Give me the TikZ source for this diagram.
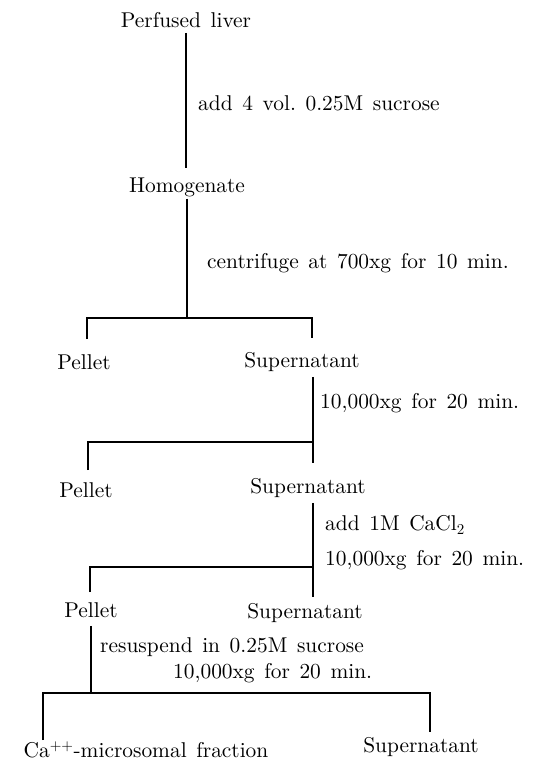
\documentclass[tikz,border=0pt]{standalone}
\usepackage{fontspec}
\setmainfont{lmroman10-regular.otf}
\usepackage{tikz}
\usetikzlibrary{positioning,calc}

\newcommand{\stagefont}{\fontsize{21.4}{25}\selectfont\spaceskip=0.45em plus 0.1em\relax}
\tikzset{
  stage/.style={font=\stagefont, inner sep=2pt},
  note/.style={stage, anchor=west},
  flow/.style={line width=2.5pt}
}

\begin{document}
\begin{tikzpicture}[x=1pt,y=-1pt]
  \useasboundingbox (0,0) rectangle (534,769);
  % fractions
  \node[stage] (liver) at (186,20) {Perfused liver};
  \node[stage] (homog) at (187,187) {Homogenate};
  \node[stage] (p1) at (84,362) {Pellet};
  \node[stage] (s1) at (302,362) {Supernatant};
  \node[stage] (p2) at (86,490) {Pellet};
  \node[stage] (s2) at (308,488) {Supernatant};
  \node[stage] (p3) at (91,610) {Pellet};
  \node[stage] (s3) at (305,613) {Supernatant};
  \node[stage] (micro) at (146,750) {Ca\textsuperscript{++}-microsomal fraction};
  \node[stage] (s4) at (421,747) {Supernatant};
  % steps
  \node[note] (add) at (196,103) {add 4 vol.\ 0.25M sucrose};
  \node[note] (spin1) at (205,263) {centrifuge at 700xg for 10 min.};
  \node[note] (spin2) at (318,403) {10,000xg for 20 min.};
  \node[note] (cacl) at (323,525) {add 1M CaCl\textsubscript{2}};
  \node[note] (spin3) at (323,560) {10,000xg for 20 min.};
  \node[note] (resus) at (98,647) {resuspend in 0.25M sucrose};
  \node[note] (spin4) at (171,673) {10,000xg for 20 min.};
  % junctions
  \coordinate (j1) at (186,168);
  \coordinate (b1) at (187,318);
  \coordinate (p1t) at (87,339);
  \coordinate (s1t) at (312,338);
  \coordinate (b2) at (313,442);
  \coordinate (p2t) at (88,470);
  \coordinate (s2t) at (313,463);
  \coordinate (b3) at (313,567);
  \coordinate (p3t) at (90,592);
  \coordinate (s3t) at (313,597);
  \coordinate (b4) at (91,693);
  \coordinate (mt) at (43,740);
  \coordinate (s4t) at (430,732);
  % connectors
  \draw[flow, shorten <=3pt] (liver.south) -- (j1);
  \draw[flow] (homog.south) -- (b1);
  \draw[flow] (p1t) |- (b1) -| (s1t);
  \draw[flow, shorten <=3pt] (s1.south -| b2) -- (b2);
  \draw[flow] (p2t) |- (b2) -- (s2t);
  \draw[flow, shorten <=3pt] (s2.south -| s3t) -- (s3t);
  \draw[flow] (p3t) |- (b3);
  \draw[flow, shorten <=6pt] (p3.south -| b4) -- (b4);
  \draw[flow] (mt) |- (b4) -| (s4t);
\end{tikzpicture}
\end{document}
